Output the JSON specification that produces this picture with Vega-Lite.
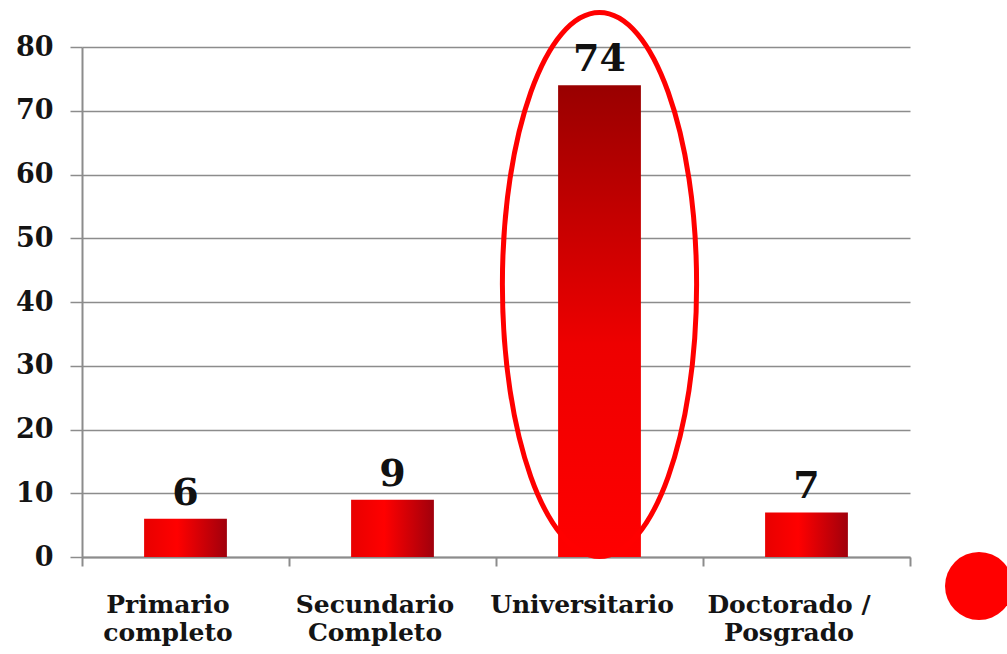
{
  "$schema": "https://vega.github.io/schema/vega-lite/v6.json",
  "width": 828,
  "height": 510,
  "autosize": {"type": "none"},
  "padding": {"left": 82, "top": 47, "right": 97, "bottom": 97},
  "background": "white",
  "config": {"view": {"stroke": null}, "font": "DejaVu Serif"},
  "data": {
    "values": [
      {"nivel": "Primario completo", "valor": 6},
      {"nivel": "Secundario Completo", "valor": 9},
      {"nivel": "Universitario", "valor": 74},
      {"nivel": "Doctorado / Posgrado", "valor": 7}
    ]
  },
  "encoding": {
    "x": {
      "field": "nivel",
      "type": "nominal",
      "sort": ["Primario completo", "Secundario Completo", "Universitario", "Doctorado / Posgrado"],
      "scale": {"paddingInner": 0, "paddingOuter": 0},
      "axis": {
        "title": null,
        "labelAngle": 0,
        "tickBand": "extent",
        "tickSize": 9,
        "tickWidth": 2,
        "tickColor": "#8c8c8c",
        "domainColor": "#8c8c8c",
        "domainWidth": 2,
        "labelFont": "DejaVu Serif",
        "labelFontSize": 25,
        "labelFontWeight": "bold",
        "labelColor": "#141414",
        "labelBaseline": "top",
        "labelPadding": 26,
        "labelLineHeight": 28,
        "labelOffset": -18,
        "labelLimit": 400,
        "labelExpr": "datum.label == 'Doctorado / Posgrado' ? ['Doctorado /', 'Posgrado'] : split(datum.label, ' ')"
      }
    },
    "y": {
      "field": "valor",
      "type": "quantitative",
      "scale": {"domain": [0, 80]},
      "axis": {
        "title": null,
        "values": [0, 10, 20, 30, 40, 50, 60, 70, 80],
        "grid": true,
        "gridColor": "#8c8c8c",
        "gridWidth": 1.5,
        "tickColor": "#8c8c8c",
        "tickWidth": 1.5,
        "tickSize": 12,
        "domainColor": "#8c8c8c",
        "domainWidth": 2,
        "labelFont": "DejaVu Serif",
        "labelFontSize": 27,
        "labelFontWeight": "bold",
        "labelColor": "#141414",
        "labelPadding": 17
      }
    }
  },
  "layer": [
    {
      "transform": [{"filter": "datum.nivel != 'Universitario'"}],
      "mark": {
        "type": "bar",
        "width": {"band": 0.4},
        "color": {
          "gradient": "linear", "x1": 0, "x2": 1, "y1": 0, "y2": 0,
          "stops": [
            {"offset": 0, "color": "#e80000"},
            {"offset": 0.4, "color": "#ff0000"},
            {"offset": 1, "color": "#a0000c"}
          ]
        }
      }
    },
    {
      "transform": [{"filter": "datum.nivel == 'Universitario'"}],
      "mark": {
        "type": "bar",
        "width": {"band": 0.4},
        "color": {
          "gradient": "linear", "x1": 0, "x2": 0, "y1": 0, "y2": 1,
          "stops": [
            {"offset": 0, "color": "#990000"},
            {"offset": 0.55, "color": "#ee0000"},
            {"offset": 1, "color": "#ff0000"}
          ]
        }
      }
    },
    {
      "mark": {"type": "text", "dy": -14, "baseline": "alphabetic", "fontSize": 38, "fontWeight": "bold", "font": "DejaVu Serif", "color": "#111111"},
      "encoding": {"text": {"field": "valor", "type": "quantitative"}}
    },
    {
      "transform": [{"filter": "datum.nivel == 'Universitario'"}],
      "mark": {
        "type": "point",
        "filled": false,
        "color": "#ff0000",
        "strokeWidth": 5,
        "opacity": 1,
        "shape": "M 0 -1 A 0.357 1 0 1 1 0 1 A 0.357 1 0 1 1 0 -1 Z",
        "size": 295936
      },
      "encoding": {
        "y": {"datum": 42.75, "type": "quantitative"}
      }
    },
    {
      "transform": [{"filter": "datum.nivel == 'Universitario'"}],
      "mark": {"type": "point", "filled": true, "size": 0, "shape": "circle"},
      "encoding": {
        "y": {"datum": 0, "type": "quantitative"},
        "fill": {
          "datum": "Serie",
          "type": "nominal",
          "scale": {"range": ["#ff0000"]},
          "legend": {
            "orient": "none",
            "legendX": 863,
            "legendY": 505,
            "title": null,
            "labelExpr": "''",
            "padding": 0,
            "symbolType": "circle",
            "symbolSize": 4624,
            "symbolOffset": 0,
            "symbolStrokeWidth": 0,
            "symbolOpacity": 1
          }
        }
      }
    }
  ]
}
